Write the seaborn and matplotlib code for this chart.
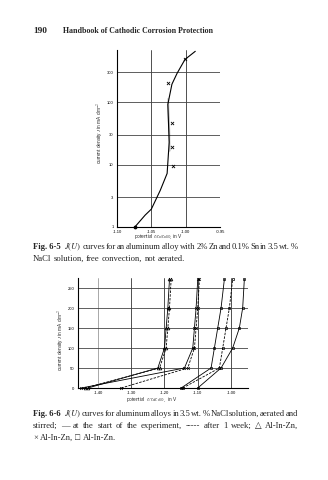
import numpy as np
import pandas as pd
import seaborn as sns
import matplotlib
matplotlib.use("Agg")
import matplotlib.pyplot as plt

sns.set_theme(style="white")
plt.rcParams['font.family'] = ['Liberation Serif', 'DejaVu Serif']
plt.rcParams['mathtext.fontset'] = 'stix'

W, H = 328, 480

# ---------------- Fig. 6-5 data: Al-Zn-Sn alloy, free convection ----------------
u65_curve = [-1.074, -1.059, -1.050, -1.037, -1.027, -1.024, -1.024,
             -1.026, -1.026, -1.020, -1.0125, -1.001, -0.986]
j65_curve = [1.0, 1.55, 1.93, 3.86, 7.2, 16.7, 31, 72, 116, 193, 288, 480, 648]
u65_points = [-1.001, -1.026, -1.020, -1.020, -1.019]
j65_points = [480, 200, 46, 19, 9.3]
u65_ticks = [-1.10, -1.05, -1.00, -0.95]
u65_ticklabels = ["-1.10", "-1.05", "-1.00", "-0.95"]
j65_ticks = [1, 3, 10, 30, 100, 300]
j65_ticklabels = ["1", "3", "10", "30", "100", "300"]

# ---------------- Fig. 6-6 data: Al-In-Zn alloys, aerated and stirred ----------------
j66 = [0, 50, 100, 150, 200, 272]
u66_tri_start = [-1.43, -1.22, -1.20, -1.195, -1.19, -1.185]
u66_tri_week = [-1.44, -1.215, -1.195, -1.19, -1.185, -1.18]
u66_x_start = [-1.45, -1.14, -1.115, -1.11, -1.105, -1.10]
u66_x_week = [-1.33, -1.13, -1.11, -1.105, -1.10, -1.095]
u66_sq_start = [-1.15, -1.06, -1.05, -1.04, -1.03, -1.02]
u66_sq_week = [-1.145, -1.035, -1.025, -1.015, -1.005, -0.995]
u66_sq2_start = [-1.10, -1.03, -0.995, -0.975, -0.965, -0.96]
u66_ticks = [-1.40, -1.30, -1.20, -1.10, -1.00]
u66_ticklabels = ["-1.40", "-1.30", "-1.20", "-1.10", "-1.00"]
j66_ticks = [0, 50, 100, 150, 200, 250]
j66_ticklabels = ["0", "50", "100", "150", "200", "250"]

fig = plt.figure(figsize=(W / 100, H / 100), dpi=100)
fig.patch.set_facecolor("white")
SANS = ["Liberation Sans", "DejaVu Sans"]


def px_axes(left, top, right, bottom):
    return fig.add_axes([left / W, 1 - bottom / H, (right - left) / W, (bottom - top) / H])


def style_axes(ax):
    ax.set_facecolor("white")
    for side in ("top", "right"):
        ax.spines[side].set_visible(False)
    for side in ("left", "bottom"):
        ax.spines[side].set_color("black")
        ax.spines[side].set_linewidth(0.8)
    ax.tick_params(axis="both", which="both", length=1.5, width=0.5, colors="black",
                   labelsize=3.0, pad=1.0, direction="out")
    for lab in ax.get_xticklabels() + ax.get_yticklabels():
        lab.set_family(SANS)


# ---------------- upper chart ----------------
ax1 = px_axes(117, 50, 220, 227)
ax1.set_yscale("log")
ax1.set_xlim(-1.10, -0.95)
ax1.set_ylim(1, 680)
for v, c in zip(u65_ticks[1:], ["#333333", "#333333", "#9a9a9a"]):
    ax1.axvline(v, color=c, lw=0.6, zorder=0)
for j in j65_ticks[1:]:
    ax1.axhline(j, color="#444444", lw=0.6, zorder=0)
df65 = pd.DataFrame({"U": u65_curve, "J": j65_curve})
sns.lineplot(data=df65, x="U", y="J", sort=False, color="black", lw=0.8, ax=ax1)
pts65 = pd.DataFrame({"U": u65_points, "J": j65_points})
sns.scatterplot(data=pts65, x="U", y="J", marker="x", s=5, color="black", linewidth=0.6, ax=ax1)
ax1.scatter([u65_curve[0]], [j65_curve[0]], s=3, color="black", clip_on=False)
ax1.set_xticks(u65_ticks)
ax1.set_xticklabels(u65_ticklabels)
ax1.set_yticks(j65_ticks)
ax1.set_yticklabels(j65_ticklabels)
ax1.minorticks_off()
ax1.set_xlabel("")
ax1.set_ylabel("")
style_axes(ax1)
fig.text(158 / W, 1 - 237.5 / H, r"potential $U_{\mathrm{Cu/CuSO_4}}$ in V", fontsize=3.4,
         ha="center", va="center", family=SANS)
fig.text(101 / W, 1 - 133 / H, r"current density $J$ in mA dm$^{-2}$", fontsize=3.4,
         ha="center", va="center", rotation=90, family=SANS)

# ---------------- lower chart ----------------
ax2 = px_axes(78, 278, 248, 388)
ax2.set_xlim(-1.46, -0.949)
ax2.set_ylim(0, 275)
for v, c in zip(u66_ticks, ["#9a9a9a", "#333333", "#333333", "#333333", "#333333"]):
    ax2.axvline(v, color=c, lw=0.6, zorder=0)
for j in j66_ticks[1:]:
    ax2.axhline(j, color="#444444", lw=0.6, zorder=0)

rows = []
series = [
    ("tri", "start", u66_tri_start), ("tri", "week", u66_tri_week),
    ("x", "start", u66_x_start), ("x", "week", u66_x_week),
    ("sq", "start", u66_sq_start), ("sq", "week", u66_sq_week),
    ("sq", "start", u66_sq2_start),
]
for k, (alloy, time, us) in enumerate(series):
    for u, j in zip(us, j66):
        rows.append({"alloy": alloy, "time": time, "U": u, "J": j, "id": k})
df66 = pd.DataFrame(rows)
marker_map = {"tri": "^", "x": "x", "sq": "s"}
for sid, grp in df66.groupby("id", sort=False):
    alloy = grp["alloy"].iloc[0]
    dash = "-" if grp["time"].iloc[0] == "start" else (0, (3, 1.5))
    sns.lineplot(data=grp, x="U", y="J", sort=False, color="black", lw=0.6,
                 linestyle=dash, marker=marker_map[alloy], markersize=2.0,
                 markerfacecolor="none" if alloy != "x" else "black",
                 markeredgecolor="black", markeredgewidth=0.5, ax=ax2, clip_on=False)
ax2.set_xticks(u66_ticks)
ax2.set_xticklabels(u66_ticklabels)
ax2.set_yticks(j66_ticks)
ax2.set_yticklabels(j66_ticklabels)
ax2.set_xlabel("")
ax2.set_ylabel("")
style_axes(ax2)
fig.text(152 / W, 1 - 400 / H, r"potential  $U_{\mathrm{Cu/CuSO_4}}$  in V", fontsize=3.4,
         ha="center", va="center", family=SANS)
fig.text(62 / W, 1 - 340 / H, r"current density $J$ in mA dm$^{-2}$", fontsize=3.4,
         ha="center", va="center", rotation=90, family=SANS)

# ---------------- page text ----------------
renderer = fig.canvas.get_renderer()


def text_width(t):
    return t.get_window_extent(renderer).width


def fit_text(x, y, s, target, size, **kw):
    t = fig.text(x / W, 1 - y / H, s, fontsize=size, va="baseline", **kw)
    t.set_fontsize(size * target / text_width(t))
    return t


def line(x0, x1, y, pieces, size, justify=True):
    """Lay out words along one text line; stretch the gaps when justified."""
    texts = []
    for s, bold in pieces:
        texts.append(fig.text(0, 1 - y / H, s, fontsize=size, va="baseline",
                              weight="bold" if bold else "normal"))
    widths = [text_width(t) for t in texts]
    space = size * 100 / 72 * 0.25
    gap = (x1 - x0 - sum(widths)) / (len(texts) - 1) if justify else space
    x = x0
    for t, w in zip(texts, widths):
        t.set_x(x / W)
        x += w + gap


fit_text(33, 33, "190", 14, 7.5, weight="bold")
fit_text(63, 33, "Handbook of Cathodic Corrosion Protection", 148, 7.5, weight="bold")

cap = 6.2
words = lambda s: [(w, False) for w in s.split()]
line(33, 298, 249, [("Fig. 6-5", True), (" ", False)] + words(
    r"$J(U)$ curves for an aluminum alloy with 2% Zn and 0.1% Sn in 3.5 wt. %"), cap)
line(33, 298, 261, words("NaCl solution, free convection, not aerated."), cap, justify=False)

line(33, 298, 416, [("Fig. 6-6", True), (" ", False)] + words(
    r"$J(U)$ curves for aluminum alloys in 3.5 wt. % NaCl solution, aerated and"), cap)
line(33, 298, 428, words("stirred; — at the start of the experiment, ----- after 1 week; △ Al-In-Zn,"), cap)
line(33, 298, 440, words("× Al-In-Zn, □ Al-In-Zn."), cap, justify=False)

fig.savefig("out.png", dpi=100, facecolor="white")
